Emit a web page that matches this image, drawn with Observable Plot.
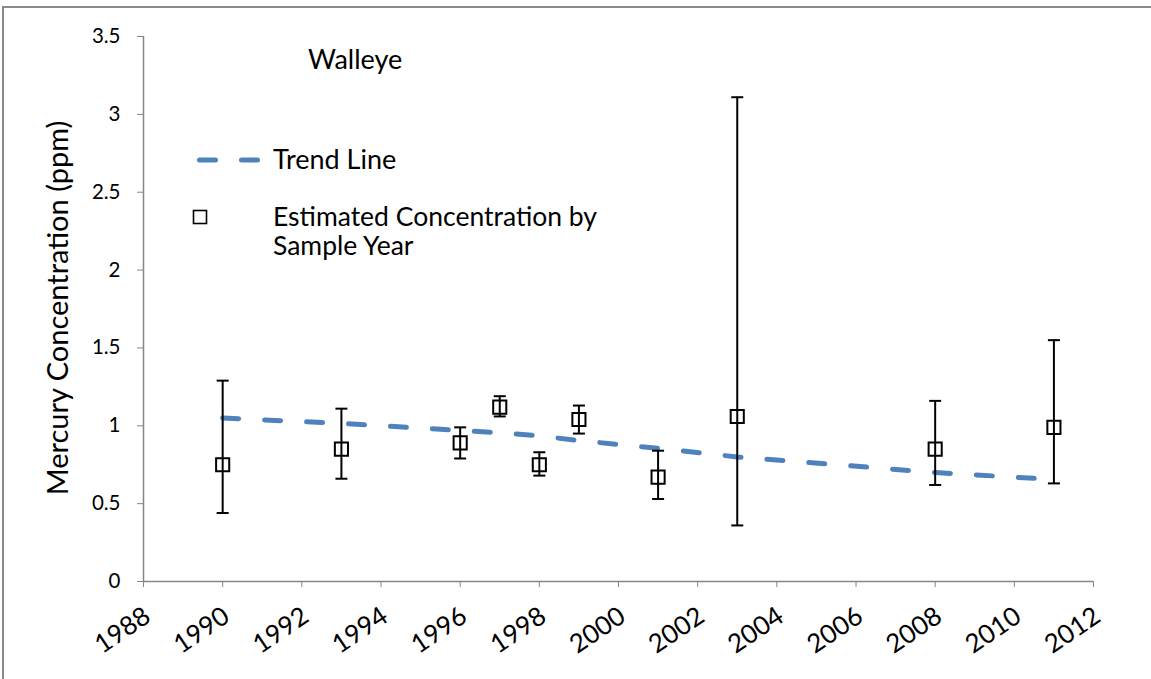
<!DOCTYPE html>
<html>
<head>
<meta charset="utf-8">
<script src="https://cdn.jsdelivr.net/npm/d3@7"></script>
<script src="https://cdn.jsdelivr.net/npm/@observablehq/plot@0.6"></script>
<style>
  html, body { margin: 0; padding: 0; background: #fff; overflow: hidden; }
  #wrap { position: relative; width: 1151px; height: 679px; font-family: Lato, "Open Sans", sans-serif; }
  #frame { position: absolute; left: 2px; top: 6px; width: 1200px; height: 720px; border-left: 2px solid #8a8a8a; border-top: 2px solid #8a8a8a; }
  #chart { position: absolute; left: 0; top: 0; }
  #overlay { position: absolute; left: 0; top: 0; }
  #overlay text { font-family: Lato, "Open Sans", sans-serif; fill: #000; }
</style>
</head>
<body>
<div id="wrap">
  <div id="frame"></div>
  <div id="chart"></div>
  <svg id="overlay" width="1151" height="679">
    <text id="ytitle" transform="translate(68,308) rotate(-90)" text-anchor="middle" font-size="29"></text>
    <text id="subject" x="308" y="69" font-size="27"></text>
    <line x1="199.5" x2="257.5" y1="160" y2="160" stroke="#4f81bd" stroke-width="5" stroke-dasharray="16,26" stroke-linecap="round"/>
    <text id="legTrend" x="273" y="169" font-size="27"></text>
    <rect x="193.5" y="210.5" width="13" height="13" fill="none" stroke="#000" stroke-width="1.6"/>
    <text id="legEst1" x="273" y="226" font-size="26.5"></text>
    <text id="legEst2" x="273" y="255" font-size="26.5"></text>
  </svg>
</div>
<script>
// Data
const sampleYears = [1990, 1993, 1996, 1997, 1998, 1999, 2001, 2003, 2008, 2011];
const estimates   = [0.75, 0.85, 0.89, 1.12, 0.75, 1.04, 0.67, 1.06, 0.85, 0.99];
const lowerBounds = [0.44, 0.66, 0.79, 1.06, 0.68, 0.95, 0.53, 0.36, 0.62, 0.63];
const upperBounds = [1.29, 1.11, 0.99, 1.19, 0.83, 1.13, 0.84, 3.11, 1.16, 1.55];
const trendValues = [1.05, 1.015, 0.97, 0.955, 0.935, 0.905, 0.855, 0.80, 0.70, 0.655];
const xTicks = [1988, 1990, 1992, 1994, 1996, 1998, 2000, 2002, 2004, 2006, 2008, 2010, 2012];
const yTicks = [0, 0.5, 1, 1.5, 2, 2.5, 3, 3.5];
const yTitle = "Mercury Concentration (ppm)";
const subjectLabel = "Walleye";
const legendLabels = ["Trend Line", "Estimated Concentration by", "Sample Year"];

document.getElementById("ytitle").textContent = yTitle;
document.getElementById("subject").textContent = subjectLabel;
document.getElementById("legTrend").textContent = legendLabels[0];
document.getElementById("legEst1").textContent = legendLabels[1];
document.getElementById("legEst2").textContent = legendLabels[2];

const rows = sampleYears.map((yr, i) => ({
  year: yr, est: estimates[i], lo: lowerBounds[i], hi: upperBounds[i], trend: trendValues[i]
}));

const capSymbol = {
  draw(ctx, size) {
    const w = Math.sqrt(size / Math.PI);
    ctx.moveTo(-w, 0);
    ctx.lineTo(w, 0);
  }
};

const axisGray = "#868686";

const chart = Plot.plot({
  width: 1151,
  height: 679,
  marginLeft: 143,
  marginRight: 58,
  marginTop: 36,
  marginBottom: 98,
  style: { fontFamily: "Lato, 'Open Sans', sans-serif", fontSize: "20.5px", color: "#000", background: "transparent" },
  x: { domain: [1988, 2012], label: null },
  y: { domain: [0, 3.5], label: null },
  marks: [
    Plot.ruleY([0], { stroke: axisGray, strokeWidth: 1.5 }),
    Plot.ruleX([1988], { stroke: axisGray, strokeWidth: 1.5 }),
    Plot.axisY({
      ticks: yTicks, tickSize: 6, tickPadding: 17, stroke: axisGray, fill: "#000",
      tickFormat: d => String(d), label: null
    }),
    Plot.axisX({
      ticks: xTicks, tickSize: 6, stroke: axisGray, text: null, label: null
    }),
    Plot.text(xTicks, {
      x: d => d, text: d => String(d), frameAnchor: "bottom",
      textAnchor: "end", lineAnchor: "middle", rotate: -34,
      dx: 4, dy: 32, fontSize: 26, fill: "#000"
    }),
    Plot.line(rows, {
      x: "year", y: "trend", stroke: "#4f81bd", strokeWidth: 5,
      strokeDasharray: "16,26", strokeLinecap: "round", curve: "linear"
    }),
    Plot.ruleX(rows, { x: "year", y1: "lo", y2: "hi", stroke: "#000", strokeWidth: 2 }),
    Plot.dot(rows, { x: "year", y: "hi", symbol: capSymbol, r: 6, stroke: "#000", strokeWidth: 2 }),
    Plot.dot(rows, { x: "year", y: "lo", symbol: capSymbol, r: 6, stroke: "#000", strokeWidth: 2 }),
    Plot.dot(rows, { x: "year", y: "est", symbol: "square", r: 7.4, stroke: "#000", strokeWidth: 2, fill: "none" })
  ]
});
document.getElementById("chart").appendChild(chart);
</script>
</body>
</html>
